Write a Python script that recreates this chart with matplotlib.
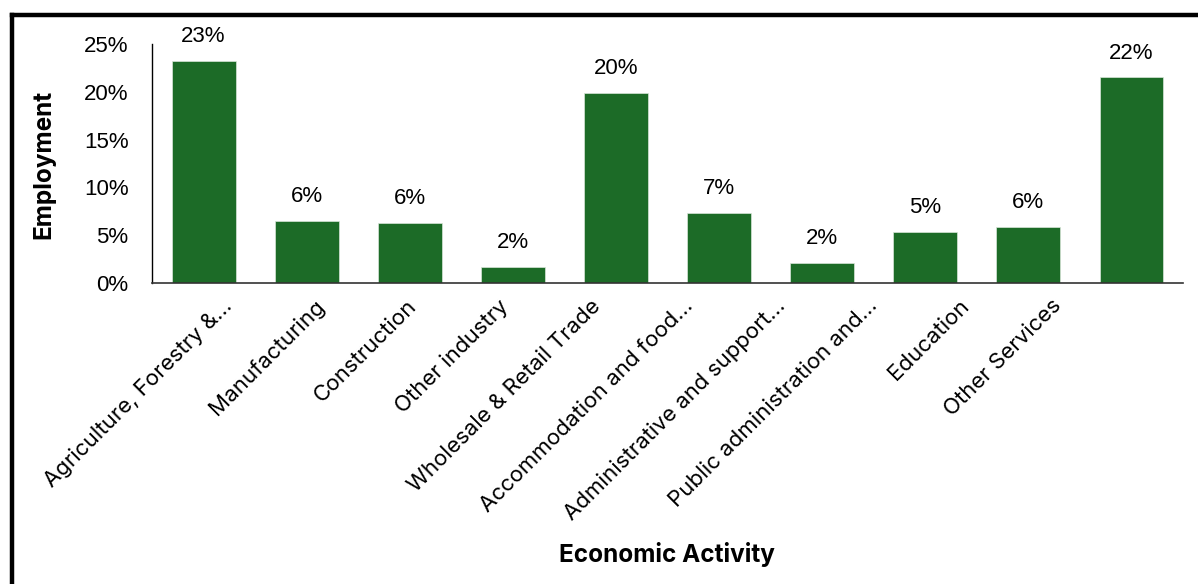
import matplotlib
matplotlib.use("Agg")
import matplotlib.pyplot as plt
from matplotlib.lines import Line2D
from matplotlib.ticker import FuncFormatter, MultipleLocator

categories = ["Agriculture, Forestry &...", "Manufacturing", "Construction",
              "Other industry", "Wholesale & Retail Trade", "Accommodation and food...",
              "Administrative and support...", "Public administration and...",
              "Education", "Other Services"]
employment = [23.2, 6.5, 6.3, 1.7, 19.9, 7.3, 2.1, 5.3, 5.9, 21.5]

bar_color = "#1c6b27"

# Excel-like compressed placement of the rotated category labels (layout only)
label_start, label_step = 0.175, 0.894

fig = plt.figure(figsize=(11.98, 5.84), dpi=100)
ax = fig.add_axes([0.1269, 0.5154, 0.8606, 0.4093])

x = list(range(len(categories)))
ax.bar(x, employment, width=0.62, color=bar_color, edgecolor="#d9e6d9", linewidth=0.5)

for xi, v in zip(x, employment):
    ax.text(xi, v + 1.45, f"{round(v):.0f}%", ha="center", va="bottom",
            fontsize=16, family="Liberation Sans")

ax.set_xlim(-0.5, len(categories) - 0.5)
ax.set_ylim(0, 25)
ax.yaxis.set_major_locator(MultipleLocator(5))
ax.yaxis.set_major_formatter(FuncFormatter(lambda v, p: f"{v:.0f}%"))
ax.tick_params(axis="y", length=0, pad=17, labelsize=16)
ax.tick_params(axis="x", length=0, pad=9)
for lab in ax.get_yticklabels():
    lab.set_family("Liberation Sans")

ax.set_xticks([label_start + label_step * i for i in x])
ax.set_xticklabels(categories, rotation=45, ha="right", rotation_mode="anchor",
                   fontsize=16, family="Inter")

for s in ["top", "right"]:
    ax.spines[s].set_visible(False)
ax.spines["left"].set_linewidth(1.0)
ax.spines["left"].set_color("black")
ax.spines["bottom"].set_color("#333333")
ax.spines["bottom"].set_linewidth(1.2)

fig.text(0.557, 0.05, "Economic Activity", ha="center", va="center",
         fontsize=17.5, fontweight="bold", family="Inter")
fig.text(0.037, 0.719, "Employment", ha="center", va="center", rotation=90,
         fontsize=17.5, fontweight="bold", family="Inter")

# frame lines (left and top)
fig.add_artist(Line2D([0.0097, 0.0097], [0.0, 0.9745], transform=fig.transFigure,
                      color="black", linewidth=3.2, solid_capstyle="projecting"))
fig.add_artist(Line2D([0.0097, 1.0], [0.9745, 0.9745], transform=fig.transFigure,
                      color="black", linewidth=3.2, solid_capstyle="projecting"))

fig.savefig("out.png", dpi=100, facecolor="white")
